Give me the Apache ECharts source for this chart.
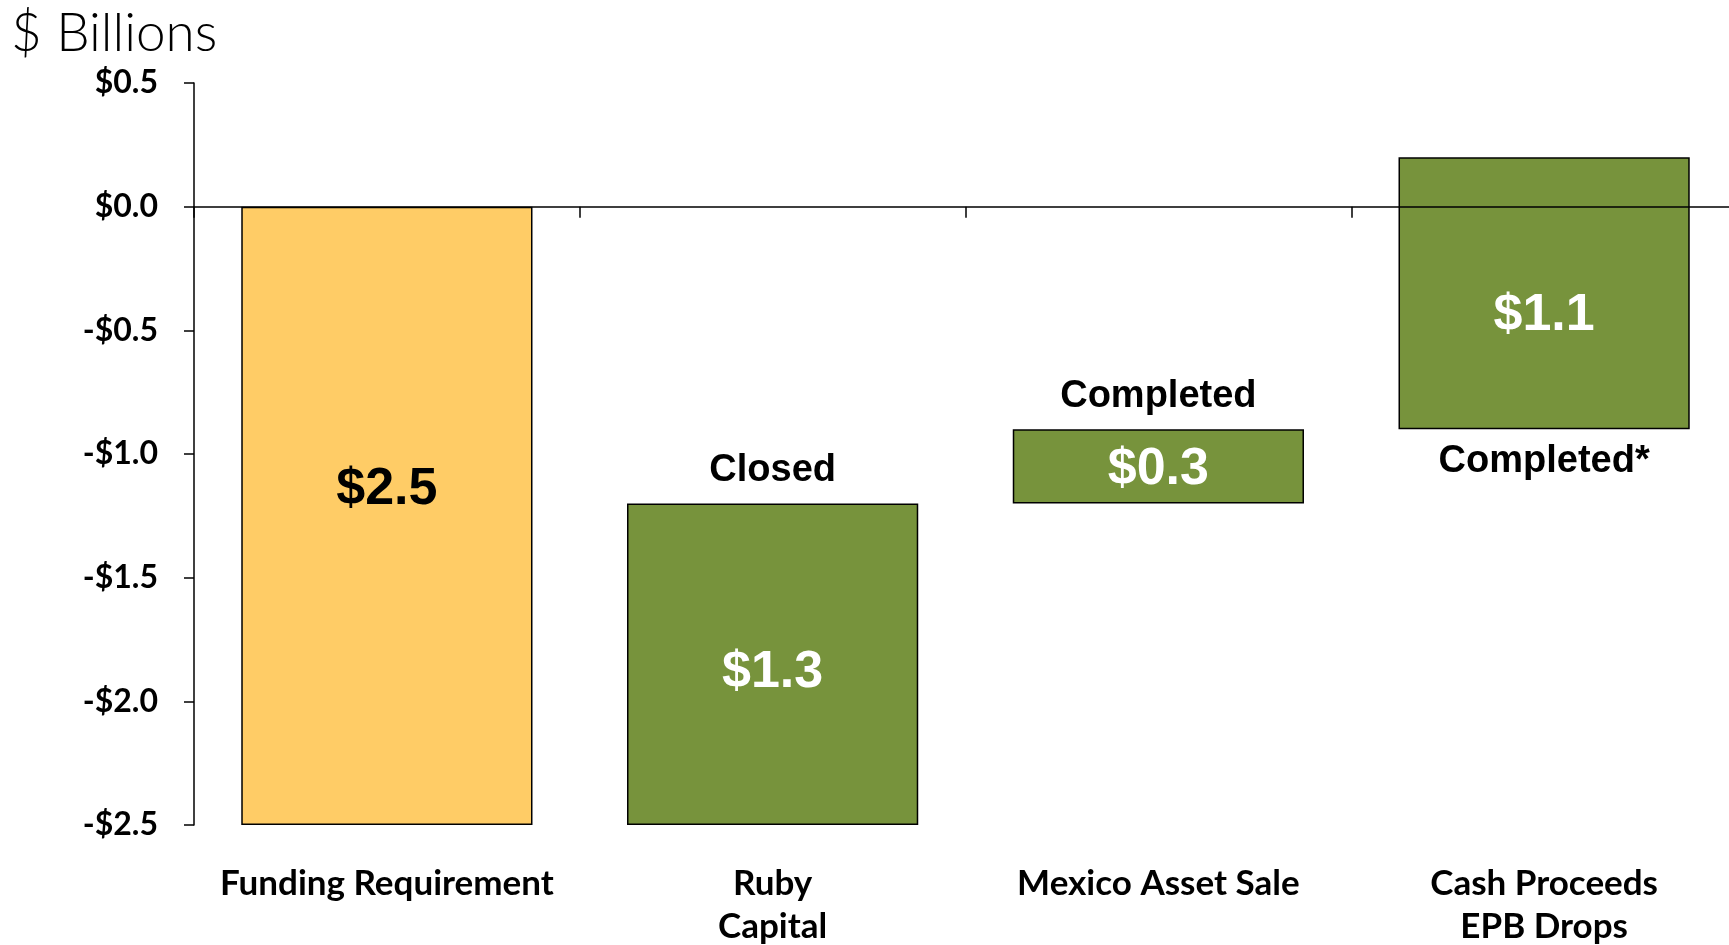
<!DOCTYPE html>
<html>
<head>
<meta charset="utf-8">
<script src="https://cdn.jsdelivr.net/npm/echarts@6/dist/echarts.min.js"></script>
<style>
  html, body { margin: 0; padding: 0; background: #fff; }
  #chart { width: 1729px; height: 945px; }
</style>
</head>
<body>
<div id="chart"></div>
<script>
// waterfall steps, $ billions
const categories = ['Funding Requirement', 'Ruby\nCapital', 'Mexico Asset Sale', 'Cash Proceeds\nEPB Drops'];
const steps = [-2.5, 1.3, 0.3, 1.1];
const statusText = ['', 'Closed', 'Completed', 'Completed*'];
const statusSide = ['', 'top', 'top', 'bottom'];
const barColors = ['#FFCC66', '#77933C', '#77933C', '#77933C'];
const labelColors = ['#000', '#fff', '#fff', '#fff'];
const labelShift = [-26, 8, 3, 22];

const yMin = -2.5, yMax = 0.5, yStep = 0.5;

// running base of each step
const bases = [];
let run = 0;
steps.forEach(function (s) { bases.push(+run.toFixed(2)); run += s; });

// where each status word hangs: top of the bar or under it
const statusPoints = [];
steps.forEach(function (s, i) {
  if (!statusText[i]) return;
  const a = bases[i], b = +(bases[i] + s).toFixed(2);
  const y = statusSide[i] === 'top' ? Math.max(a, b) : Math.min(a, b);
  statusPoints.push([i, y, statusText[i], statusSide[i]]);
});

const chart = echarts.init(document.getElementById('chart'));

chart.setOption({
  animation: false,
  title: {
    text: '$ Billions',
    left: 6,
    top: 2,
    textStyle: { fontFamily: 'Lato', fontWeight: 300, fontSize: 53, color: '#000' }
  },
  grid: { left: 194, right: -8, top: 83, bottom: 120, outerBoundsMode: 'none', containLabel: false },
  xAxis: [
    {
      type: 'category',
      data: categories,
      z: 10,
      axisLine: { onZero: true, lineStyle: { color: '#000', width: 1.5 } },
      axisTick: { show: true, length: 11, lineStyle: { color: '#000', width: 1.5 } },
      axisLabel: { show: false }
    },
    {
      type: 'category',
      data: categories,
      position: 'bottom',
      axisLine: { show: false, onZero: false },
      axisTick: { show: false },
      axisLabel: {
        interval: 0,
        margin: 37,
        fontFamily: 'Lato',
        fontWeight: 'bold',
        fontSize: 35,
        lineHeight: 43,
        color: '#000'
      }
    }
  ],
  yAxis: {
    type: 'value',
    min: yMin,
    max: yMax,
    interval: yStep,
    splitLine: { show: false },
    axisLine: { show: true, lineStyle: { color: '#000', width: 1.5 } },
    axisTick: { show: true, length: 10, lineStyle: { color: '#000', width: 1.5 } },
    axisLabel: {
      margin: 36,
      fontFamily: 'Lato',
      fontWeight: 'bold',
      fontSize: 32,
      color: '#000',
      formatter: function (v) {
        return (v < 0 ? '-' : '') + '$' + Math.abs(v).toFixed(1);
      }
    }
  },
  series: [
    {
      type: 'bar',
      stack: 'w',
      stackStrategy: 'all',
      barWidth: '75.5%',
      silent: true,
      itemStyle: { color: 'transparent' },
      data: bases
    },
    {
      type: 'bar',
      stack: 'w',
      stackStrategy: 'all',
      barWidth: '75.5%',
      itemStyle: { borderColor: '#000', borderWidth: 1.5 },
      label: {
        show: true,
        position: 'inside',
        fontFamily: 'Liberation Sans',
        fontWeight: 'bold',
        fontSize: 52,
        formatter: function (p) { return '$' + Math.abs(p.value).toFixed(1); }
      },
      data: steps.map(function (s, i) {
        return {
          value: s,
          itemStyle: { color: barColors[i] },
          label: { color: labelColors[i], offset: [0, labelShift[i]] }
        };
      })
    },
    {
      type: 'custom',
      silent: true,
      z: 5,
      data: statusPoints,
      renderItem: function (params, api) {
        const pt = api.coord([api.value(0), api.value(1)]);
        const d = statusPoints[params.dataIndex];
        const up = d[3] === 'top';
        return {
          type: 'text',
          x: pt[0],
          y: pt[1] + (up ? -33 : 32),
          style: {
            text: d[2],
            fill: '#000',
            fontFamily: 'Liberation Sans',
            fontWeight: 'bold',
            fontSize: 38,
            align: 'center',
            verticalAlign: 'middle'
          }
        };
      }
    }
  ]
});
</script>
</body>
</html>
